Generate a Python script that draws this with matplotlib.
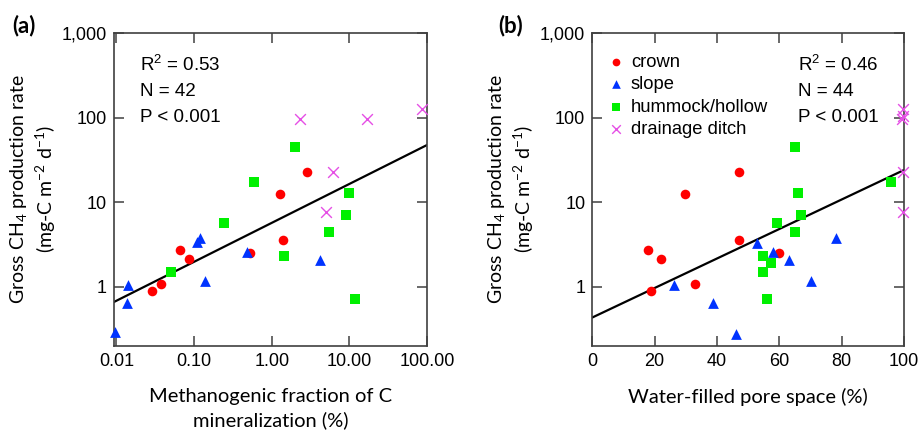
import numpy as np
import matplotlib
matplotlib.use("Agg")
from matplotlib import pyplot as plt

# --- data ---
# panel (a): methanogenic fraction of C mineralization (%) vs gross CH4 production
a_crown_x = [0.029, 0.037, 0.065, 0.085, 0.53, 1.27, 1.38, 2.85]
a_crown_y = [0.90, 1.08, 2.73, 2.12, 2.5, 12.5, 3.6, 22.6]
a_slope_x = [0.0096, 0.0138, 0.0143, 0.11, 0.119, 0.138, 0.48, 4.2]
a_slope_y = [0.29, 0.65, 1.06, 3.4, 3.8, 1.18, 2.6, 2.08]
a_hum_x = [0.051, 0.24, 0.60, 1.43, 2.0, 5.4, 9.1, 9.9, 12.0]
a_hum_y = [1.50, 5.65, 17.2, 2.34, 45, 4.4, 7.0, 12.9, 0.72]
a_ditch_x = [2.34, 6.1, 5.0, 16.8, 86]
a_ditch_y = [96, 22.6, 7.7, 96, 125]
a_fit = (0.756, 0.46)  # log10(y) = b0 + b1*log10(x)
a_stats = ["R$^2$ = 0.53", "N = 42", "P < 0.001"]

# panel (b): water-filled pore space (%) vs gross CH4 production
b_crown_x = [18.0, 22.0, 18.7, 29.8, 32.9, 47.0, 47.0, 60.0]
b_crown_y = [2.73, 2.12, 0.90, 12.5, 1.08, 22.6, 3.6, 2.5]
b_slope_x = [26.1, 38.6, 46.1, 52.9, 58.1, 63.1, 70.2, 78.2]
b_slope_y = [1.05, 0.65, 0.28, 3.3, 2.6, 2.08, 1.18, 3.76]
b_hum_x = [56.2, 54.7, 54.7, 57.2, 59.3, 65.0, 67.1, 66.1, 65.0, 95.7]
b_hum_y = [0.72, 1.49, 2.34, 1.9, 5.65, 4.4, 7.0, 12.9, 45, 17.2]
b_ditch_x = [99.6, 99.8, 99.3, 99.8, 99.6]
b_ditch_y = [128, 104, 95, 22.6, 7.6]
b_fit = (-0.362, 0.01743)  # log10(y) = b0 + b1*x
b_stats = ["R$^2$ = 0.46", "N = 44", "P < 0.001"]

a_xticks = [0.01, 0.1, 1, 10, 100]
a_xlabels = ["0.01", "0.10", "1.00", "10.00", "100.00"]
b_xticks = [0, 20, 40, 60, 80, 100]
yticks = [1, 10, 100, 1000]
ylabels = ["1", "10", "100", "1,000"]

plt.rcParams["font.family"] = ["Liberation Sans", "DejaVu Sans"]
plt.rcParams["mathtext.default"] = "regular"

RED = "#ff0000"
BLUE = "#0033ff"
GREEN = "#00f000"
MAG = "#e54fe5"
SPINE = "#404040"

fig = plt.figure(figsize=(9.22, 4.30), dpi=100)
ax1 = fig.add_axes([0.1236, 0.1953, 0.3395, 0.728])
ax2 = fig.add_axes([0.6424, 0.1953, 0.3381, 0.728])


def draw(ax, cx, cy, sx, sy, hx, hy, dx, dy):
    ax.scatter(cx, cy, s=48, marker="o", color=RED, lw=0, label="crown", zorder=3, clip_on=False)
    ax.scatter(sx, sy, s=60, marker="^", color=BLUE, lw=0, label="slope", zorder=3, clip_on=False)
    ax.scatter(hx, hy, s=55, marker="s", color=GREEN, lw=0, label="hummock/hollow", zorder=3, clip_on=False)
    ax.scatter(dx, dy, s=60, marker="x", color=MAG, lw=1.0, label="drainage ditch", zorder=3, clip_on=False)


def style(ax):
    ax.set_yscale("log")
    ax.set_ylim(0.2, 1000)
    ax.set_yticks(yticks, labels=ylabels)
    ax.yaxis.set_minor_locator(matplotlib.ticker.NullLocator())
    ax.tick_params(direction="in", top=True, right=True, length=7, width=1.1,
                   color=SPINE, labelsize=13, pad=5)
    for sp in ax.spines.values():
        sp.set_color(SPINE)
        sp.set_linewidth(1.2)
    ax.set_ylabel("Gross CH$_4$ production rate\n(mg-C m$^{-2}$ d$^{-1}$)",
                  fontsize=14, family="Lato", labelpad=3, linespacing=1.25)


def stats(ax, x0, lines):
    for i, t in enumerate(lines):
        ax.text(x0, 0.898 - i * 0.0847, t, transform=ax.transAxes, fontsize=13.5, va="center")


# (a)
draw(ax1, a_crown_x, a_crown_y, a_slope_x, a_slope_y, a_hum_x, a_hum_y, a_ditch_x, a_ditch_y)
ax1.set_xscale("log")
ax1.set_xlim(0.0093, 100)
xs = np.logspace(np.log10(0.0093), 2, 50)
ax1.plot(xs, 10 ** (a_fit[0] + a_fit[1] * np.log10(xs)), color="black", lw=1.6, zorder=2)
ax1.set_xticks(a_xticks, labels=a_xlabels)
ax1.xaxis.set_minor_locator(matplotlib.ticker.NullLocator())
style(ax1)
ax1.set_xlabel("Methanogenic fraction of C\nmineralization (%)", fontsize=14.5,
               family="Lato", labelpad=13, linespacing=1.4)
stats(ax1, 0.083, a_stats)
fig.text(0.013, 0.925, "(a)", fontsize=16, fontweight="bold", family="Lato")

# (b)
draw(ax2, b_crown_x, b_crown_y, b_slope_x, b_slope_y, b_hum_x, b_hum_y, b_ditch_x, b_ditch_y)
ax2.set_xlim(0, 100)
xs = np.linspace(0, 100, 50)
ax2.plot(xs, 10 ** (b_fit[0] + b_fit[1] * xs), color="black", lw=1.6, zorder=2)
ax2.set_xticks(b_xticks)
style(ax2)
ax2.set_xlabel("Water-filled pore space (%)", fontsize=14.5, family="Lato", labelpad=13)
stats(ax2, 0.66, b_stats)
fig.text(0.540, 0.925, "(b)", fontsize=16, fontweight="bold", family="Lato")
ax2.legend(loc="upper left", frameon=False, fontsize=13.2, handletextpad=0.2,
           labelspacing=0.3, handlelength=1.2, markerscale=0.8,
           bbox_to_anchor=(0.0, 0.975), borderaxespad=0.3)

fig.savefig("out.png", dpi=100)
